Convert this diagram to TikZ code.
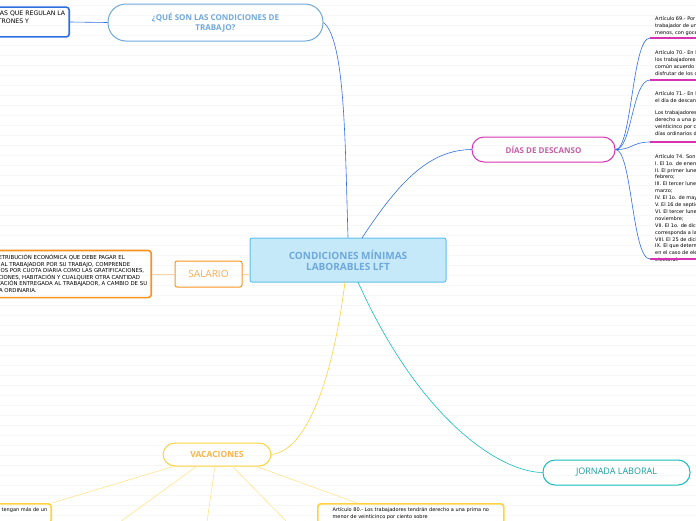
\documentclass[tikz,border=0pt]{standalone}
\usepackage{fontspec}
\setmainfont{DejaVu Sans}
\newfontfamily\headfont{Open Sans}
\usetikzlibrary{positioning}
\definecolor{bluebr}{HTML}{2F6FE0}
\definecolor{bluelt}{HTML}{6FA8DC}
\definecolor{cenfill}{HTML}{C5E9F8}
\definecolor{cenline}{HTML}{5CC1EA}
\definecolor{magen}{HTML}{D633B4}
\definecolor{pinktx}{HTML}{C45FA5}
\definecolor{orng}{HTML}{F7941D}
\definecolor{orngtx}{HTML}{F9AA50}
\definecolor{yell}{HTML}{FFD23F}
\definecolor{yelltx}{HTML}{F9B54B}
\definecolor{teal}{HTML}{14BDBD}
\definecolor{tealtx}{HTML}{149C9C}
\tikzset{
  topic/.style={draw,rounded corners=12pt,line width=1pt,font=\headfont\bfseries\fontsize{9}{10}\selectfont,align=center},
  leaf/.style={anchor=north west,align=left,inner sep=0pt,font=\fontsize{5}{7}\selectfont},
  detail/.style={draw,rounded corners=3pt,line width=1.6pt,align=left,inner sep=4pt,font=\fontsize{5}{6.6}\selectfont},
}
\begin{document}
\begin{tikzpicture}[x=1pt,y=-1pt]
\useasboundingbox (0,0) rectangle (696,520);
%ruled background
\foreach \y in {5,15,...,515}{
   \draw[black!3,line width=0.4pt] (0,\y) -- (696,\y);
}

%central topic
\node[topic,fill=cenfill,draw=cenline,text=bluelt,rounded corners=2pt,minimum width=196pt,minimum height=44pt,font=\headfont\bfseries\fontsize{10}{11}\selectfont] (cmin) at (348,260) {CONDICIONES MÍNIMAS\\LABORABLES LFT};

%main topics
\node[topic,draw=bluelt,text=bluelt,minimum width=215pt,minimum height=37pt,rounded corners=18pt,font=\headfont\bfseries\fontsize{8}{10}\selectfont] (que) at (215.5,22.5) {¿QUÉ SON LAS CONDICIONES DE\\TRABAJO?};
\node[topic,draw=magen,text=pinktx,minimum width=143pt,minimum height=25pt,font=\headfont\bfseries\fontsize{8}{10}\selectfont] (dias) at (543.5,149.5) {DÍAS DE DESCANSO};
\node[topic,draw=orng,text=orngtx,rounded corners=2pt,minimum width=67pt,minimum height=26pt,font=\headfont\fontsize{10}{11}\selectfont] (sal) at (208.5,274) {SALARIO};
\node[topic,draw=yell,text=yelltx,minimum width=108pt,minimum height=23pt,font=\headfont\bfseries\fontsize{8.5}{10}\selectfont] (vac) at (217,454.5) {VACACIONES};
\node[topic,draw=teal,text=tealtx,minimum width=147pt,minimum height=25pt,font=\headfont\fontsize{9}{10}\selectfont] (jor) at (616.5,472.5) {JORNADA LABORAL};

%details
\node[detail,draw=bluebr,anchor=east,font=\rmfamily\fontsize{6.2}{8}\selectfont] (defi) at (70,22) {CONJUNTO DE NORMAS QUE REGULAN LA\\RELACIÓN ENTRE PATRONES Y\\TRABAJADORES.};
\node[detail,draw=orng,anchor=east,font=\fontsize{5.4}{6.6}\selectfont] (dsal) at (152,274) {ES LA RETRIBUCIÓN ECONÓMICA QUE DEBE PAGAR EL\\PATRÓN AL TRABAJADOR POR SU TRABAJO, COMPRENDE\\LOS PAGOS POR CUOTA DIARIA COMO LAS GRATIFICACIONES,\\PERCEPCIONES, HABITACIÓN Y CUALQUIER OTRA CANTIDAD\\O PRESTACIÓN ENTREGADA AL TRABAJADOR, A CAMBIO DE SU\\JORNADA ORDINARIA.};
\node[detail,draw=yell,anchor=north west,minimum width=186pt,font=\fontsize{5}{7}\selectfont] (v80) at (317,503) {Artículo 80.- Los trabajadores tendrán derecho a una prima no\\menor de veinticinco por ciento sobre\\los salarios que les correspondan};
\node[detail,draw=yell,anchor=north east,font=\fontsize{5}{7}\selectfont] (v76) at (52,503) {Los trabajadores que tengan más de un\\año de servicios};
\coordinate (va) at (120,522);
\coordinate (vb) at (207,522);
\coordinate (vc) at (287,522);

%right leaves
\node[leaf] (a69) at (655,16) {Artículo 69.- Por cada seis días de trabajo disfrutará el\\trabajador de un día de descanso, por lo\\menos, con goce de salario íntegro.};
\node[leaf] (a70) at (655,50) {Artículo 70.- En los trabajos que requieran una labor continua,\\los trabajadores y el patrón fijarán de\\común acuerdo los días en que los trabajadores deban\\disfrutar de los de descanso semanal.};
\node[leaf] (a71) at (655,91) {Artículo 71.- En los reglamentos de esta Ley se procurará que\\el día de descanso semanal sea el domingo.\\[5pt]Los trabajadores que presten servicio en día domingo tendrán\\derecho a una prima adicional de un\\veinticinco por ciento, por lo menos, sobre el salario de los\\días ordinarios de trabajo.};
\node[leaf,font=\fontsize{5}{6.9}\selectfont] (a74) at (655,154) {Artículo 74. Son días de descanso obligatorio:\\I. El 1o. de enero;\\II. El primer lunes de\\febrero;\\III. El tercer lunes de\\marzo;\\IV. El 1o. de mayo;\\V. El 16 de septiembre;\\VI. El tercer lunes de\\noviembre;\\VII. El 1o. de diciembre de cada seis años, cuando\\corresponda a la transmisión del Poder Ejecutivo Federal;\\VIII. El 25 de diciembre, y\\IX. El que determinen las leyes federales y locales\\en el caso de elecciones ordinarias, para efectuar la jornada\\electoral.};
\foreach \n/\y in {u69/38,u70/80,u71/142,u74/259}{
   \coordinate (\n) at (650,\y);
   \draw[magen,line width=1.6pt] (\n) -- (700,\y);
}

%connectors
\draw[bluebr,line width=0.6pt] (cmin.north) .. controls (345,140) and (345,40) .. (que.east);
\draw[bluebr,line width=0.6pt] (defi.east) -- (que.west);
\draw[bluebr,line width=0.6pt] (362,238) .. controls (400,180) and (430,150) .. (dias.west);
\draw[bluebr,line width=0.6pt] (dias.east) .. controls (632,150) and (632,38) .. (u69);
\draw[bluebr,line width=0.6pt] (dias.east) .. controls (632,150) and (632,80) .. (u70);
\draw[bluebr,line width=0.6pt] (dias.east) .. controls (632,150) and (632,142) .. (u71);
\draw[bluebr,line width=0.6pt] (dias.east) .. controls (632,150) and (632,259) .. (u74);
\draw[orng!40,line width=1pt] (dsal.east) -- (sal.west);
\draw[orng!40,line width=1pt] (sal.east) -- (cmin.west |- sal.east);
\draw[yell,line width=0.6pt] (345,282) .. controls (330,400) and (300,452) .. (vac.east);
\draw[teal,line width=0.6pt] (358,282) .. controls (420,420) and (500,472) .. (jor.west);
\draw[yell!60,line width=0.6pt] (175,466) -- (v76.north east);
\draw[yell!60,line width=0.6pt] (197,466) -- (va);
\draw[yell!60,line width=0.6pt] (215,466) -- (vb);
\draw[yell!60,line width=0.6pt] (232,466) -- (vc);
\draw[yell!60,line width=0.6pt] (255,466) -- (357,503);
\end{tikzpicture}
\end{document}
